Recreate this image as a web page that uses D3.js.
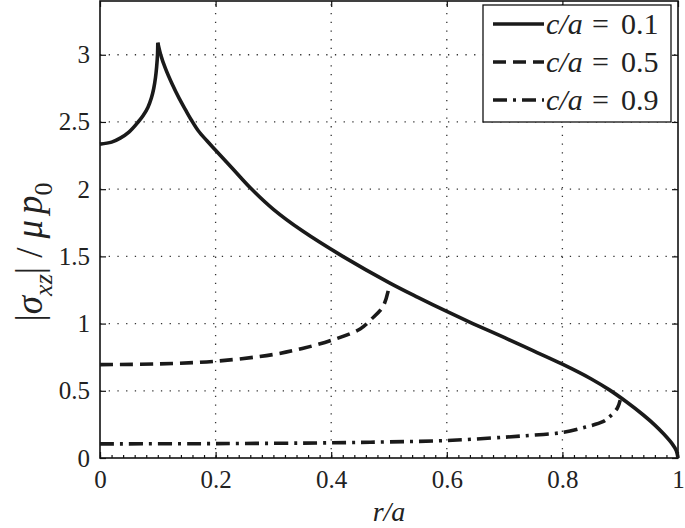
<!DOCTYPE html>
<html>
<head>
<meta charset="utf-8">
<script src="https://cdn.jsdelivr.net/npm/d3@7"></script>
<style>
  body { margin: 0; background: #fff; }
  svg text { font-family: "Liberation Serif", "Times New Roman", serif; }
</style>
</head>
<body>
<div id="chart"></div>
<script>
// c/a = 0.1 (cusp at r/a = 0.1, drawn as two pieces)
const rLeft01 = [0, 0.02, 0.035, 0.05, 0.066, 0.075, 0.083, 0.089, 0.093, 0.096, 0.098, 0.0995, 0.1];
const vLeft01 = [2.335, 2.35, 2.38, 2.425, 2.50, 2.55, 2.61, 2.68, 2.75, 2.83, 2.91, 3.0, 3.09];
const rRight01 = [0.1, 0.105, 0.113, 0.125, 0.137, 0.148, 0.158, 0.17, 0.185, 0.2, 0.23, 0.26, 0.3, 0.35, 0.42, 0.5, 0.55, 0.6, 0.645, 0.7, 0.75, 0.8, 0.85, 0.882, 0.91, 0.94, 0.96, 0.975, 0.99, 0.997, 1.0];
const vRight01 = [3.09, 3.0, 2.9, 2.78, 2.675, 2.59, 2.515, 2.435, 2.36, 2.29, 2.15, 2.01, 1.85, 1.69, 1.50, 1.305, 1.195, 1.09, 1.0, 0.895, 0.797, 0.698, 0.588, 0.505, 0.42, 0.32, 0.245, 0.18, 0.105, 0.055, 0];

// c/a = 0.5
const r05 = [0, 0.1, 0.2, 0.3, 0.35, 0.4, 0.45, 0.47, 0.49, 0.5];
const v05 = [0.695, 0.70, 0.72, 0.77, 0.815, 0.875, 0.96, 1.035, 1.13, 1.27];

// c/a = 0.9
const r09 = [0, 0.2, 0.4, 0.5, 0.6, 0.7, 0.75, 0.8, 0.84, 0.87, 0.88, 0.895, 0.9];
const v09 = [0.105, 0.107, 0.113, 0.12, 0.13, 0.155, 0.17, 0.19, 0.23, 0.27, 0.30, 0.37, 0.43];

const xTicks = [0, 0.2, 0.4, 0.6, 0.8, 1];
const yTicks = [0, 0.5, 1, 1.5, 2, 2.5, 3];
const legendLabels = ['0.1', '0.5', '0.9'];

const W = 685, H = 528;
const margin = { top: 1, right: 7, bottom: 70, left: 100 };
const width = W - margin.left - margin.right;
const height = H - margin.top - margin.bottom;
const serif = '"Liberation Serif", "Times New Roman", serif';

const svg = d3.select('#chart')
  .append('svg')
  .attr('width', W)
  .attr('height', H);

const g = svg.append('g')
  .attr('transform', `translate(${margin.left},${margin.top})`);

const x = d3.scaleLinear().domain([0, 1]).range([0, width]);
const y = d3.scaleLinear().domain([0, 3.4]).range([height, 0]);

// dotted grid
g.append('g')
  .selectAll('line')
  .data(yTicks.filter(d => d > 0))
  .enter()
  .append('line')
  .attr('x1', 0).attr('x2', width)
  .attr('y1', d => y(d)).attr('y2', d => y(d))
  .attr('stroke', '#333')
  .attr('stroke-width', 1.3)
  .attr('stroke-dasharray', '1.3,7.4');

g.append('g')
  .selectAll('line')
  .data(xTicks.filter(d => d > 0 && d < 1))
  .enter()
  .append('line')
  .attr('x1', d => x(d)).attr('x2', d => x(d))
  .attr('y1', height).attr('y2', 0)
  .attr('stroke', '#333')
  .attr('stroke-width', 1.3)
  .attr('stroke-dasharray', '1.3,7.4');

// axes, ticks pointing inwards on all four sides
const xAxis = g.append('g')
  .attr('transform', `translate(0,${height})`)
  .call(d3.axisBottom(x).tickValues(xTicks).tickFormat(d3.format('')).tickSizeInner(-6).tickSizeOuter(0).tickPadding(12));
const xMinor = g.append('g')
  .attr('transform', `translate(0,${height})`)
  .call(d3.axisBottom(x).tickValues(d3.range(0, 1.001, 0.02)).tickFormat('').tickSizeInner(-3).tickSizeOuter(0));
const yAxis = g.append('g')
  .call(d3.axisLeft(y).tickValues(yTicks).tickFormat(d3.format('')).tickSizeInner(-6).tickSizeOuter(0).tickPadding(10));
const xTop = g.append('g')
  .call(d3.axisTop(x).tickValues(xTicks).tickFormat('').tickSizeInner(-6).tickSizeOuter(0));
const yRight = g.append('g')
  .attr('transform', `translate(${width},0)`)
  .call(d3.axisRight(y).tickValues(yTicks).tickFormat('').tickSizeInner(-6).tickSizeOuter(0));

[xAxis, xMinor, yAxis, xTop, yRight].forEach(a => {
  a.attr('font-family', serif).attr('font-size', 25);
  a.select('.domain').remove();
  a.selectAll('line').attr('stroke', '#111').attr('stroke-width', 1.2);
  a.selectAll('text').attr('fill', '#222');
});

g.append('rect')
  .attr('x', 0).attr('y', 0)
  .attr('width', width).attr('height', height)
  .attr('fill', 'none')
  .attr('stroke', '#111')
  .attr('stroke-width', 1.6);

// curves
const line = d3.line()
  .x(d => x(d[0]))
  .y(d => y(d[1]))
  .curve(d3.curveCatmullRom.alpha(0.5));

const series = [
  { pts: [d3.zip(rLeft01, vLeft01), d3.zip(rRight01, vRight01)], dash: null },
  { pts: [d3.zip(r05, v05)], dash: '13,7' },
  { pts: [d3.zip(r09, v09)], dash: '14,6,3,6' }
];

series.forEach(s => {
  s.pts.forEach(p => {
    g.append('path')
      .datum(p)
      .attr('fill', 'none')
      .attr('stroke', '#1a1a1a')
      .attr('stroke-width', 3.6)
      .attr('stroke-linejoin', 'round')
      .attr('stroke-dasharray', s.dash)
      .attr('d', line);
  });
});

// legend
const leg = svg.append('g').attr('transform', 'translate(483,5)');
leg.append('rect')
  .attr('width', 188).attr('height', 117)
  .attr('fill', '#fff')
  .attr('stroke', '#111')
  .attr('stroke-width', 1.3);

series.forEach((s, i) => {
  const row = leg.append('g').attr('transform', `translate(0,${19 + i * 38})`);
  row.append('line')
    .attr('x1', 10).attr('x2', 61)
    .attr('y1', 0).attr('y2', 0)
    .attr('stroke', '#1a1a1a')
    .attr('stroke-width', 3.6)
    .attr('stroke-dasharray', s.dash);
  const t = row.append('text')
    .attr('y', 10)
    .attr('fill', '#222')
    .attr('font-size', 30);
  t.append('tspan').attr('x', 63).attr('font-style', 'italic').text('c/a');
  t.append('tspan').attr('x', 109).text('=');
  t.append('tspan').attr('x', 138).text(legendLabels[i]);
});

// axis labels
svg.append('text')
  .attr('x', margin.left + x(0.5))
  .attr('y', 521)
  .attr('text-anchor', 'middle')
  .attr('fill', '#222')
  .attr('font-size', 28)
  .attr('font-style', 'italic')
  .text('r/a');

const yl = svg.append('text')
  .attr('transform', 'translate(42,252) rotate(-90)')
  .attr('text-anchor', 'middle')
  .attr('fill', '#222')
  .attr('font-size', 37);
yl.append('tspan').text('|');
yl.append('tspan').attr('font-style', 'italic').text('σ');
yl.append('tspan').attr('font-style', 'italic').attr('font-size', 26).attr('dy', 10).text('xz');
yl.append('tspan').attr('dy', -10).text('|');
yl.append('tspan').attr('dx', 9).text('/');
yl.append('tspan').attr('dx', 9).attr('font-style', 'italic').text('μ');
yl.append('tspan').attr('dx', 6).attr('font-style', 'italic').text('p');
yl.append('tspan').attr('font-size', 26).attr('dy', 10).text('0');
</script>
</body>
</html>
